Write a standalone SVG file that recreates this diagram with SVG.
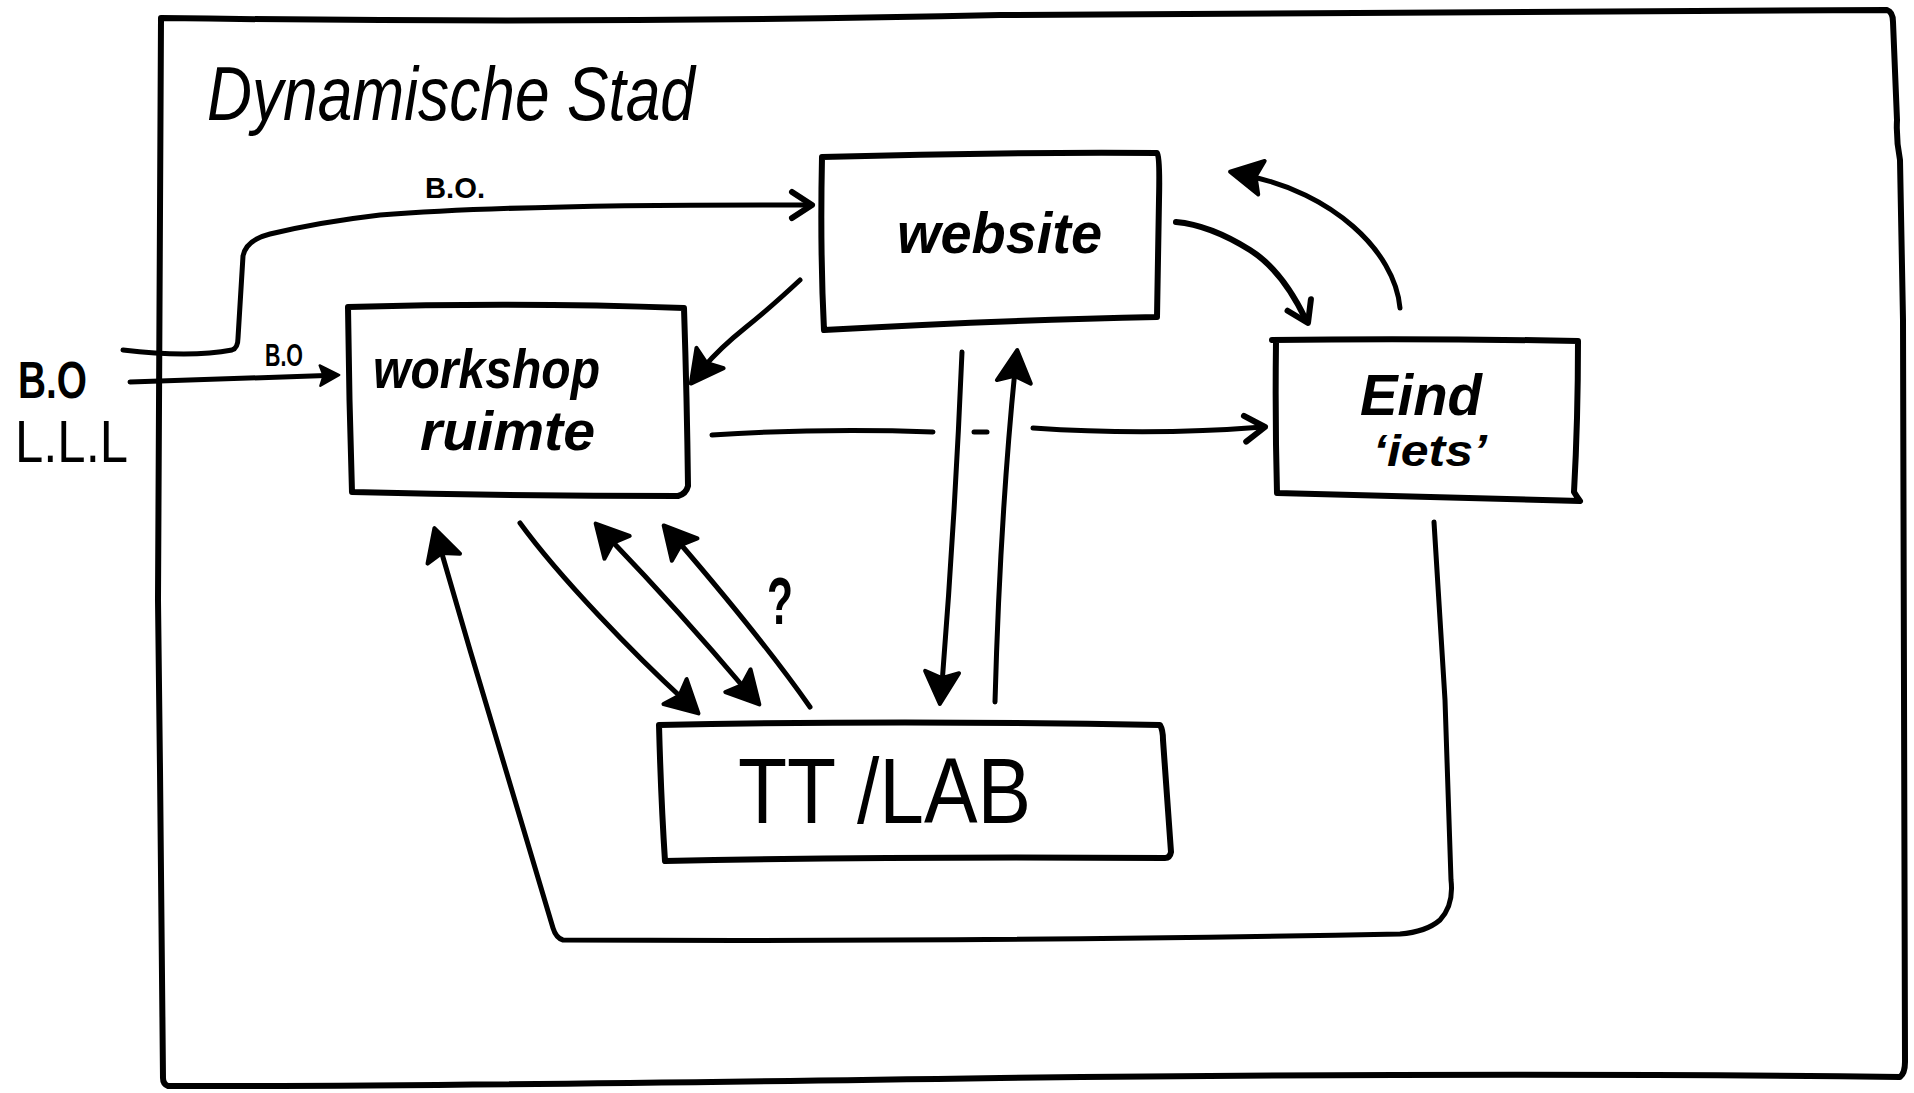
<svg xmlns="http://www.w3.org/2000/svg" width="1914" height="1093" viewBox="0 0 1914 1093">
<style>
.ln{fill:none;stroke:#000;stroke-width:5;stroke-linecap:round;stroke-linejoin:round}
.box{fill:none;stroke:#000;stroke-width:6;stroke-linecap:round;stroke-linejoin:round}
.t{font-family:"Liberation Sans",Arial,sans-serif;fill:#000}
.hw{font-style:italic;font-weight:bold}
.chv{fill:none;stroke:#000;stroke-width:6;stroke-linecap:round;stroke-linejoin:round}
</style>
<defs>
<path id="ah" d="M2,0 L-30,-17 L-24,0 L-30,17 Z" fill="#000" stroke="#000" stroke-width="4" stroke-linejoin="round"/>
<polyline id="ch" class="chv" points="-20,-13 0,0 -20,13"/>
</defs>
<rect width="1914" height="1093" fill="#fff"/>

<g id="frame">
<path class="box" d="M161,18 Q600,24 1000,15 Q1500,11 1887,10 Q1893,12 1893,22 L1897,120 Q1896,140 1900,160 L1903,320 L1905,1062 Q1905,1073 1900,1077 Q1500,1072 1000,1078 Q400,1087 168,1086 Q163,1084 163,1078 L160,770 L158,600 L161,18 Z"/>
<text class="t" x="207" y="120" font-size="76" font-style="italic" textLength="488" lengthAdjust="spacingAndGlyphs">Dynamische Stad</text>
</g>

<g id="labels-left">
<text class="t" x="18" y="398" font-size="52" font-weight="bold" textLength="69" lengthAdjust="spacingAndGlyphs">B.O</text>
<text class="t" x="15" y="462" font-size="60" textLength="113" lengthAdjust="spacingAndGlyphs">L.L.L</text>
</g>

<g id="node-website">
<path class="box" d="M822,157 Q990,152 1157,153 Q1160,156 1159,200 L1157,317 Q1000,320 824,330 Q820,250 822,157 Z"/>
<text class="t hw" x="897" y="253" font-size="58" textLength="205" lengthAdjust="spacingAndGlyphs">website</text>
</g>

<g id="node-workshop">
<path class="box" d="M348,307 Q520,302 684,308 Q687,400 688,486 Q686,494 678,496 Q520,496 352,492 Q349,400 348,307 Z"/>
<text class="t hw" x="373" y="388" font-size="56" textLength="227" lengthAdjust="spacingAndGlyphs">workshop</text>
<text class="t hw" x="420" y="450" font-size="56" textLength="175" lengthAdjust="spacingAndGlyphs">ruimte</text>
</g>

<g id="node-eind">
<path class="box" d="M1272,340 Q1420,338 1578,341 Q1578,420 1574,492 Q1577,497 1580,501 Q1420,497 1277,493 Q1275,420 1276,342"/>
<text class="t hw" x="1360" y="415" font-size="58" textLength="122" lengthAdjust="spacingAndGlyphs">Eind</text>
<text class="t hw" x="1373" y="466" font-size="44" textLength="114" lengthAdjust="spacingAndGlyphs">‘iets’</text>
</g>

<g id="node-ttlab">
<path class="box" d="M659,725 Q900,720 1160,725 Q1163,730 1163,740 L1171,852 Q1170,858 1165,858 Q900,856 665,861 Q661,800 659,725 Z"/>
<text class="t" x="738" y="823" font-size="92" textLength="293" lengthAdjust="spacingAndGlyphs">TT /LAB</text>
</g>

<g id="connectors">
<path class="ln" d="M123,350 Q190,358 232,350 Q238,348 238,338 L243,256 Q246,240 270,234 Q320,222 380,215 Q520,204 810,205"/>
<use href="#ch" transform="translate(812,205)"/>
<text class="t" x="425" y="198" font-size="30" font-weight="bold" textLength="60" lengthAdjust="spacingAndGlyphs">B.O.</text>

<path class="ln" d="M130,382 L326,375.5"/>
<use href="#ah" transform="translate(338,375) rotate(-2) scale(0.6)"/>
<text class="t" x="265" y="366" font-size="32" font-weight="bold" textLength="38" lengthAdjust="spacingAndGlyphs">B.O</text>

<path class="ln" d="M800,280 Q770,308 745,328 Q720,348 703,368"/>
<use href="#ah" transform="translate(692,382) rotate(127)"/>

<path class="ln" d="M712,435 Q820,428 933,432"/>
<path class="ln" d="M974,432 L987,432"/>
<path class="ln" d="M1033,428 Q1150,436 1263,427"/>
<use href="#ch" transform="translate(1265,427) rotate(-5)"/>

<path class="ln" d="M962,352 Q955,520 942,684"/>
<use href="#ah" transform="translate(940,702) rotate(94)"/>

<path class="ln" d="M995,702 Q1000,520 1015,370"/>
<use href="#ah" transform="translate(1017,352) rotate(-84)"/>

<path class="ln" style="stroke-width:6" d="M1176,222 Q1210,225 1250,250 Q1282,270 1306,320"/>
<use href="#ch" transform="translate(1308,323) rotate(64)"/>

<path class="ln" d="M1400,308 C1395,250 1330,192 1248,176"/>
<use href="#ah" transform="translate(1232,172) rotate(191)"/>

<path class="ln" d="M520,523 C560,578 635,655 684,700"/>
<use href="#ah" transform="translate(697,712) rotate(43)"/>

<path class="ln" d="M609,538 Q680,612 746,690"/>
<use href="#ah" transform="translate(597,525) rotate(228)"/>
<use href="#ah" transform="translate(758,703) rotate(48)"/>

<path class="ln" d="M810,707 C770,650 720,590 677,540"/>
<use href="#ah" transform="translate(665,527) rotate(229)"/>
<text class="t" x="767" y="624" font-size="66" font-weight="bold" textLength="26" lengthAdjust="spacingAndGlyphs">?</text>

<path class="ln" d="M1434,522 L1445,700 L1451,880 Q1454,905 1440,920 Q1426,932 1400,934 Q1000,942 563,940 Q556,938 553,928 L470,650 L440,547"/>
<use href="#ah" transform="translate(435,530) rotate(253)"/>
</g>
</svg>
